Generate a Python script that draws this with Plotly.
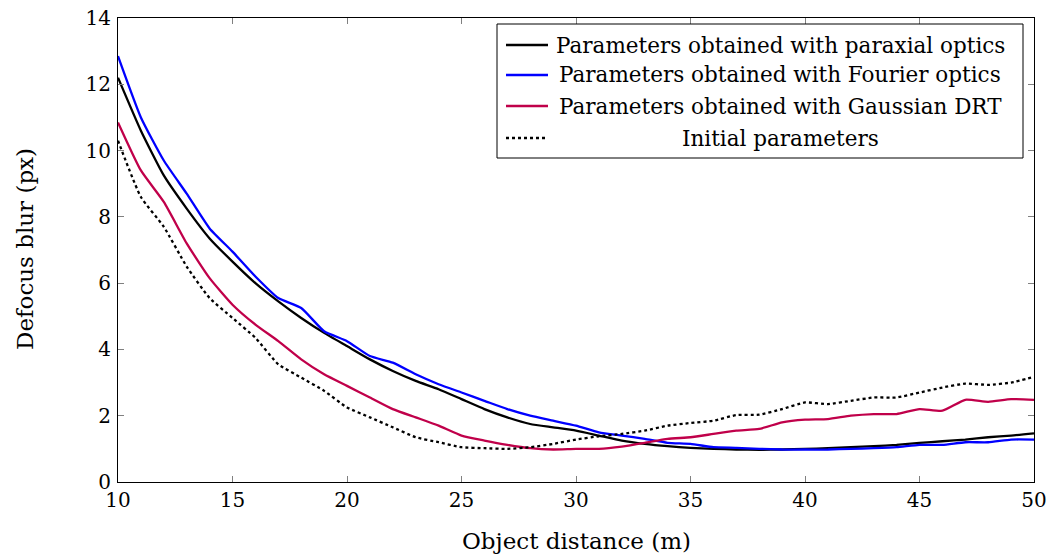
import plotly.graph_objects as go

x = list(range(10, 51))

paraxial = [12.2, 10.6, 9.25, 8.25, 7.35, 6.65, 6.0, 5.45, 4.95, 4.5, 4.1, 3.7, 3.35, 3.05, 2.8, 2.5, 2.2, 1.95,
            1.75, 1.65, 1.55, 1.4, 1.25, 1.15, 1.08, 1.03, 1.0, 0.98, 0.97, 0.98, 1.0, 1.02, 1.05, 1.08, 1.12,
            1.18, 1.23, 1.28, 1.35, 1.4, 1.47]
fourier = [12.85, 11.0, 9.7, 8.7, 7.65, 6.95, 6.2, 5.55, 5.25, 4.55, 4.25, 3.8, 3.6, 3.25, 2.95, 2.7, 2.45, 2.2,
           2.0, 1.85, 1.7, 1.5, 1.4, 1.3, 1.18, 1.15, 1.05, 1.03, 1.0, 0.98, 0.98, 0.98, 1.0, 1.02, 1.05,
           1.12, 1.12, 1.2, 1.2, 1.28, 1.28]
gaussian = [10.85, 9.4, 8.45, 7.2, 6.15, 5.35, 4.75, 4.25, 3.7, 3.25, 2.9, 2.55, 2.2, 1.95, 1.7, 1.4, 1.25, 1.12,
            1.02, 0.98, 1.0, 1.0, 1.07, 1.18, 1.3, 1.35, 1.45, 1.55, 1.6, 1.8, 1.88, 1.9, 2.0, 2.05, 2.05,
            2.2, 2.15, 2.48, 2.42, 2.5, 2.48]
initial = [10.3, 8.6, 7.7, 6.5, 5.55, 4.95, 4.35, 3.55, 3.15, 2.75, 2.25, 1.95, 1.65, 1.35, 1.2, 1.05, 1.02, 1.0,
           1.05, 1.15, 1.28, 1.38, 1.45, 1.55, 1.7, 1.78, 1.85, 2.02, 2.03, 2.2, 2.4, 2.35, 2.45, 2.55, 2.55,
           2.7, 2.85, 2.97, 2.93, 3.0, 3.17]

names = ["Parameters obtained with paraxial optics",
         "Parameters obtained with Fourier optics",
         "Parameters obtained with Gaussian DRT",
         "Initial parameters"]
colors = ["#000000", "#0000FF", "#C0004A", "#000000"]
dashes = ["solid", "solid", "solid", "dot"]
series = [paraxial, fourier, gaussian, initial]

x_ticks = [10, 15, 20, 25, 30, 35, 40, 45, 50]
y_ticks = [0, 2, 4, 6, 8, 10, 12, 14]
x_title = "Object distance (m)"
y_title = "Defocus blur (px)"

FONT = "DejaVu Serif"

fig = go.Figure()
for name, ys, c, d in zip(names, series, colors, dashes):
    fig.add_trace(go.Scatter(x=x, y=ys, mode="lines", name=name,
                             line=dict(color=c, width=2.3, dash=d, shape="spline", smoothing=0.5),
                             showlegend=False))

W, H = 1051, 557
L, R, T, B = 118, 17, 18, 75
pw, ph = W - L - R, H - T - B

def px(xp):
    return (xp - L) / pw

def py(yp):
    return (H - B - yp) / ph

# custom legend (centered text like pgfplots)
shapes = [dict(type="rect", xref="paper", yref="paper", x0=px(497), x1=px(1023), y0=py(158), y1=py(24),
               line=dict(color="black", width=1), fillcolor="white", layer="above")]
rows = [45, 75, 106, 138]
annotations = []
for yy, name, c, d in zip(rows, names, colors, dashes):
    shapes.append(dict(type="line", xref="paper", yref="paper", x0=px(506), x1=px(548), y0=py(yy), y1=py(yy),
                       line=dict(color=c, width=2.3, dash=d), layer="above"))
    annotations.append(dict(xref="paper", yref="paper", x=px(780), y=py(yy), text=name, showarrow=False,
                            xanchor="center", yanchor="middle", font=dict(family=FONT, size=21.5, color="black")))

annotations.append(dict(xref="paper", yref="paper", x=px(576), y=py(541), text=x_title, showarrow=False,
                        xanchor="center", yanchor="middle", font=dict(family=FONT, size=23, color="black")))
annotations.append(dict(xref="paper", yref="paper", x=px(25), y=py(249), text=y_title, showarrow=False,
                        textangle=-90, xanchor="center", yanchor="middle",
                        font=dict(family=FONT, size=23, color="black")))

fig.update_layout(
    width=W, height=H,
    margin=dict(l=L, r=R, t=T, b=B),
    plot_bgcolor="white", paper_bgcolor="white",
    font=dict(family=FONT, size=20, color="black"),
    shapes=shapes, annotations=annotations,
    xaxis=dict(range=[10, 50], tickvals=x_ticks, ticks="inside", ticklen=6, tickcolor="#808080",
               showline=True, linecolor="black", linewidth=1, mirror="ticks", showgrid=False, zeroline=False,
               automargin=False, tickfont=dict(size=20)),
    yaxis=dict(range=[0, 14], tickvals=y_ticks, ticks="inside", ticklen=6, tickcolor="#808080",
               showline=True, linecolor="black", linewidth=1, mirror="ticks", showgrid=False, zeroline=False,
               automargin=False, tickfont=dict(size=20), ticklabelstandoff=2),
)

fig.write_html("out.html")
